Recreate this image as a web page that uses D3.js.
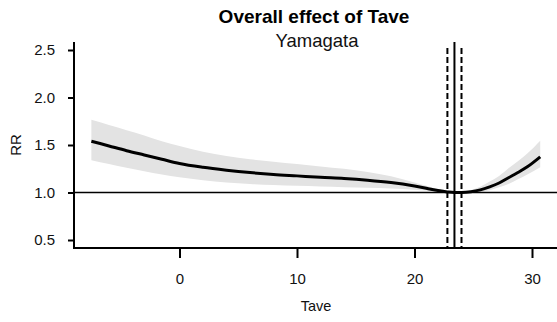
<!DOCTYPE html>
<html>
<head>
<meta charset="utf-8">
<script src="https://cdn.jsdelivr.net/npm/d3@7"></script>
<style>
  html, body { margin: 0; padding: 0; background: #fff; }
  svg { display: block; font-family: "Liberation Sans", Arial, sans-serif; }
</style>
</head>
<body>
<svg id="chart" width="557" height="322"></svg>
<script>
// Average temperature (Tave) grid and the overall cumulative relative risk
const tave   = [-7.5, -6, -4.5, -3, -1.5, 0, 2, 4, 6, 8, 10, 12, 14, 16, 18, 20, 21, 22, 22.8, 23.4, 24, 24.8, 25.6, 26.4, 27.2, 28, 28.8, 29.6, 30.7];
const rr     = [1.54, 1.49, 1.44, 1.395, 1.35, 1.305, 1.265, 1.235, 1.21, 1.19, 1.175, 1.16, 1.148, 1.13, 1.105, 1.068, 1.045, 1.02, 1.006, 1.0, 1.0, 1.008, 1.028, 1.06, 1.1, 1.155, 1.21, 1.27, 1.375];
const rrHigh = [1.765, 1.71, 1.655, 1.6, 1.54, 1.49, 1.43, 1.385, 1.35, 1.325, 1.3, 1.275, 1.25, 1.215, 1.17, 1.105, 1.07, 1.035, 1.012, 1.0, 1.002, 1.025, 1.06, 1.115, 1.175, 1.255, 1.33, 1.41, 1.545];
const rrLow  = [1.34, 1.3, 1.26, 1.225, 1.19, 1.16, 1.13, 1.105, 1.09, 1.078, 1.07, 1.063, 1.056, 1.05, 1.043, 1.03, 1.02, 1.008, 1.001, 1.0, 0.998, 0.995, 1.005, 1.025, 1.055, 1.09, 1.14, 1.19, 1.265];

// Minimum-risk temperature and its interval
const mmt = 23.4;
const mmtCI = [22.8, 24.0];

const xTicks = [0, 10, 20, 30];
const yTicks = [0.5, 1.0, 1.5, 2.0, 2.5];

const titleText = "Overall effect of Tave";
const subtitleText = "Yamagata";
const xLabel = "Tave";
const yLabel = "RR";

const svg = d3.select("#chart");

const x = d3.scaleLinear().domain([0, 30]).range([179.5, 532]);
const y = d3.scaleLinear().domain([0.5, 2.5]).range([240, 50]);

const plotLeft = 74, plotRight = 557, plotTop = 42, plotBottom = 248;

const rows = tave.map((t, i) => ({ t, v: rr[i], lo: rrLow[i], hi: rrHigh[i] }));

// Confidence band
svg.append("path")
  .datum(rows)
  .attr("fill", "#e3e3e3")
  .attr("d", d3.area()
    .x(d => x(d.t))
    .y0(d => y(d.lo))
    .y1(d => y(d.hi))
    .curve(d3.curveMonotoneX));

// Reference line at RR = 1
svg.append("line")
  .attr("x1", plotLeft).attr("x2", plotRight)
  .attr("y1", y(1)).attr("y2", y(1))
  .attr("stroke", "#000").attr("stroke-width", 1.6);

// Estimated curve
svg.append("path")
  .datum(rows)
  .attr("fill", "none")
  .attr("stroke", "#000")
  .attr("stroke-width", 3)
  .attr("d", d3.line()
    .x(d => x(d.t))
    .y(d => y(d.v))
    .curve(d3.curveMonotoneX));

// Minimum-risk temperature (solid) and its interval (dashed)
svg.append("line")
  .attr("x1", x(mmt)).attr("x2", x(mmt))
  .attr("y1", plotTop).attr("y2", plotBottom)
  .attr("stroke", "#000").attr("stroke-width", 2);

svg.selectAll(".ci")
  .data(mmtCI)
  .enter().append("line")
  .attr("class", "ci")
  .attr("x1", d => x(d)).attr("x2", d => x(d))
  .attr("y1", plotTop + 6).attr("y2", plotBottom)
  .attr("stroke", "#000").attr("stroke-width", 2)
  .attr("stroke-dasharray", "6,3");

// Axes
const xAxis = svg.append("g")
  .attr("transform", `translate(0,${plotBottom})`)
  .call(d3.axisBottom(x).tickValues(xTicks).tickSize(10).tickSizeOuter(0));
xAxis.select(".domain").remove();
xAxis.selectAll(".tick line").attr("stroke-width", 2);
xAxis.selectAll(".tick text")
  .attr("y", 35.5).attr("dy", 0)
  .attr("font-size", 15).attr("fill", "#111")
  .attr("font-family", "Liberation Sans, Arial, sans-serif");
svg.append("line")
  .attr("x1", plotLeft - 1).attr("x2", plotRight)
  .attr("y1", plotBottom).attr("y2", plotBottom)
  .attr("stroke", "#000").attr("stroke-width", 2);

const yAxis = svg.append("g")
  .attr("transform", `translate(${plotLeft},0)`)
  .call(d3.axisLeft(y).tickValues(yTicks).tickFormat(d3.format(".1f")).tickSize(6).tickPadding(13).tickSizeOuter(0));
yAxis.select(".domain").remove();
yAxis.selectAll(".tick line").attr("stroke-width", 2);
yAxis.selectAll(".tick text")
  .attr("font-size", 15).attr("fill", "#111")
  .attr("font-family", "Liberation Sans, Arial, sans-serif");
svg.append("line")
  .attr("x1", plotLeft).attr("x2", plotLeft)
  .attr("y1", plotTop).attr("y2", plotBottom + 1)
  .attr("stroke", "#000").attr("stroke-width", 2);

// Titles and axis labels
svg.append("text")
  .attr("x", 314).attr("y", 22.5)
  .attr("text-anchor", "middle")
  .attr("font-size", 19).attr("font-weight", "bold")
  .text(titleText);

svg.append("text")
  .attr("x", 317).attr("y", 46.5)
  .attr("text-anchor", "middle")
  .attr("font-size", 18.5).attr("fill", "#111")
  .text(subtitleText);

svg.append("text")
  .attr("x", 316).attr("y", 311)
  .attr("text-anchor", "middle")
  .attr("font-size", 14.5).attr("fill", "#111")
  .text(xLabel);

svg.append("text")
  .attr("transform", "translate(20.5,145) rotate(-90)")
  .attr("text-anchor", "middle")
  .attr("font-size", 15).attr("fill", "#111")
  .text(yLabel);
</script>
</body>
</html>
